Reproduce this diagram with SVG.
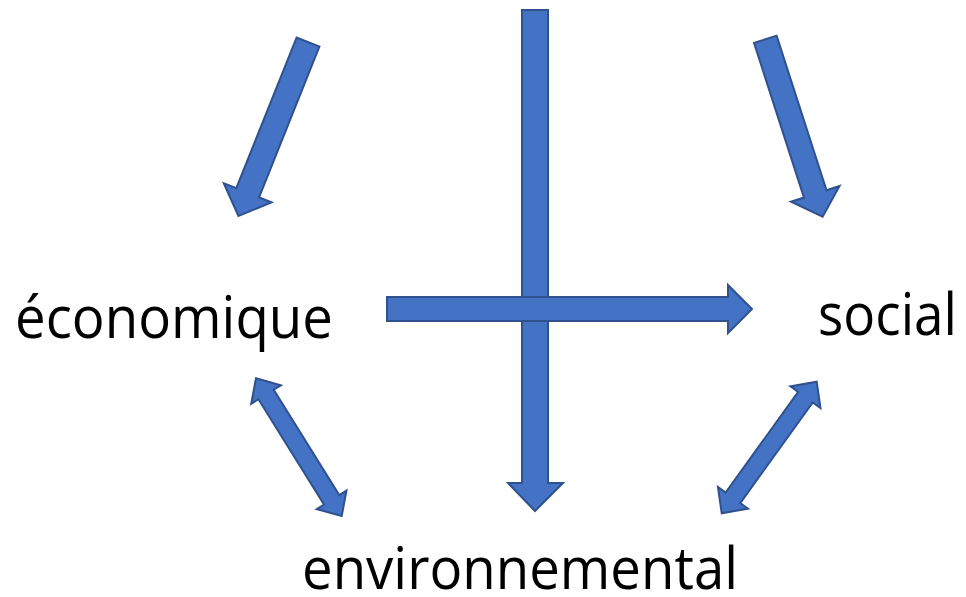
<svg xmlns="http://www.w3.org/2000/svg" width="966" height="597" viewBox="0 0 966 597">
  <style>
    .arrow { fill: #4472C4; stroke: #2F528F; stroke-width: 2; stroke-linejoin: miter; }
    .label { font-family: "Open Sans", "Liberation Sans", sans-serif; font-size: 58px; fill: #000000; }
  </style>
  <rect x="0" y="0" width="966" height="597" fill="#FFFFFF"/>
  <g id="connectors">
    <polygon class="arrow" points="522,10 548,10 548,483 563,483 535,511 508,483 522,483"/>
    <polygon class="arrow" points="387,297 728,297 728,285 752,309 728,333 728,321 387,321"/>
    <polygon class="arrow" transform="translate(308,42) rotate(111.8)" points="0,-12.25 162.4,-12.25 162.4,-25.75 187.4,0 162.4,25.75 162.4,12.25 0,12.25"/>
    <polygon class="arrow" transform="translate(765.3,39.3) rotate(72.1)" points="0,-11.85 162.5,-11.85 162.5,-25.5 186.5,0 162.5,25.5 162.5,11.85 0,11.85"/>
    <polygon class="arrow" transform="translate(298.85,447.15) rotate(58.1)" points="-81.1,0 -62,-17.5 -62,-9 62,-9 62,-17.5 81.1,0 62,17.5 62,9 -62,9 -62,17.5"/>
    <polygon class="arrow" transform="translate(769.2,447.5) rotate(125.8)" points="-81.15,0 -62,-18.5 -62,-9 62,-9 62,-18.5 81.15,0 62,18.5 62,9 -62,9 -62,18.5"/>
  </g>
  <g id="node-economique">
    <text class="label" x="15" y="338" textLength="318" lengthAdjust="spacingAndGlyphs">économique</text>
  </g>
  <g id="node-social">
    <text class="label" x="957" y="335" font-size="55" text-anchor="end" textLength="139" lengthAdjust="spacingAndGlyphs">social</text>
  </g>
  <g id="node-environnemental">
    <text class="label" x="520" y="589" font-size="56" text-anchor="middle" textLength="436" lengthAdjust="spacingAndGlyphs">environnemental</text>
  </g>
</svg>
